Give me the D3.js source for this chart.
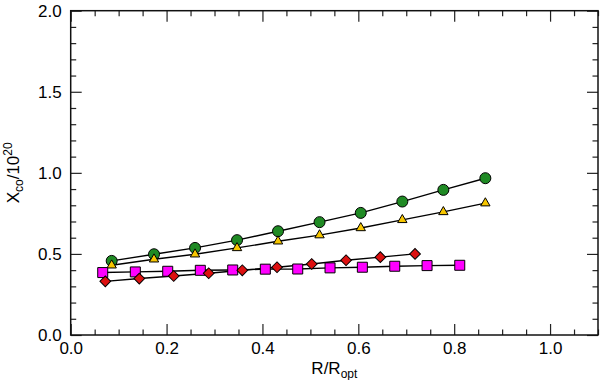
<!DOCTYPE html>
<html>
<head>
<meta charset="utf-8">
<script src="https://cdn.jsdelivr.net/npm/d3@7"></script>
<style>
  body { margin: 0; background: #fff; }
  text { font-family: "Liberation Sans", Arial, sans-serif; }
</style>
</head>
<body>
<script>
// data
const circleX = [0.0855, 0.1738, 0.2594, 0.3470, 0.4325, 0.5191, 0.6051, 0.6918, 0.7774, 0.8650];
const circleY = [0.457, 0.498, 0.537, 0.585, 0.640, 0.696, 0.753, 0.823, 0.895, 0.967];
const triangleX = [0.0855, 0.1738, 0.2594, 0.3470, 0.4325, 0.5191, 0.6051, 0.6918, 0.7774, 0.8650];
const triangleY = [0.430, 0.467, 0.498, 0.537, 0.578, 0.616, 0.660, 0.710, 0.759, 0.813];
const squareX = [0.0668, 0.1348, 0.2024, 0.2704, 0.3380, 0.4060, 0.4736, 0.5410, 0.6084, 0.6760, 0.7434, 0.8116];
const squareY = [0.385, 0.389, 0.393, 0.399, 0.401, 0.406, 0.407, 0.414, 0.418, 0.424, 0.428, 0.430];
const diamondX = [0.0722, 0.1431, 0.2149, 0.2879, 0.3580, 0.4304, 0.5028, 0.5744, 0.6459, 0.7183];
const diamondY = [0.331, 0.348, 0.364, 0.381, 0.399, 0.418, 0.438, 0.461, 0.480, 0.500];

const xMajor = [0, 0.2, 0.4, 0.6, 0.8, 1.0];
const yMajor = [0, 0.5, 1.0, 1.5, 2.0];

const width = 600, height = 380;
const margin = { top: 10.7, right: 2, bottom: 45, left: 70.7 };

const svg = d3.select("body").append("svg")
    .attr("width", width)
    .attr("height", height);

const x = d3.scaleLinear().domain([0, 1.1]).range([margin.left, width - margin.right]);
const y = d3.scaleLinear().domain([0, 2.0]).range([height - margin.bottom, margin.top]);

const xMinor = d3.range(0, 1.1001, 0.05).map(v => +v.toFixed(2)).filter(v => !xMajor.includes(v));
const yMinor = d3.range(0, 2.0001, 0.1).map(v => +v.toFixed(1)).filter(v => !yMajor.includes(v));

const fmt = d3.format(".1f");
const big = 11, small = 5.5;

function styleAxis(g) {
  g.select(".domain").remove();
  g.selectAll(".tick line").attr("stroke", "#222").attr("stroke-width", 1.2);
  g.selectAll(".tick text").attr("font-size", 17).attr("fill", "#000");
}

// bottom
svg.append("g").attr("transform", `translate(0,${y(0)})`)
    .call(d3.axisBottom(x).tickValues(xMajor).tickFormat(fmt).tickSize(-big).tickPadding(7))
    .call(styleAxis);
svg.append("g").attr("transform", `translate(0,${y(0)})`)
    .call(d3.axisBottom(x).tickValues(xMinor).tickFormat("").tickSize(-small))
    .call(styleAxis);
// top
svg.append("g").attr("transform", `translate(0,${y(2)})`)
    .call(d3.axisTop(x).tickValues(xMajor).tickFormat("").tickSize(-big))
    .call(styleAxis);
svg.append("g").attr("transform", `translate(0,${y(2)})`)
    .call(d3.axisTop(x).tickValues(xMinor).tickFormat("").tickSize(-small))
    .call(styleAxis);
// left
svg.append("g").attr("transform", `translate(${x(0)},0)`)
    .call(d3.axisLeft(y).tickValues(yMajor).tickFormat(fmt).tickSize(-big).tickPadding(9))
    .call(styleAxis);
svg.append("g").attr("transform", `translate(${x(0)},0)`)
    .call(d3.axisLeft(y).tickValues(yMinor).tickFormat("").tickSize(-small))
    .call(styleAxis);
// right
svg.append("g").attr("transform", `translate(${x(1.1)},0)`)
    .call(d3.axisRight(y).tickValues(yMajor).tickFormat("").tickSize(-big))
    .call(styleAxis);
svg.append("g").attr("transform", `translate(${x(1.1)},0)`)
    .call(d3.axisRight(y).tickValues(yMinor).tickFormat("").tickSize(-small))
    .call(styleAxis);

// frame
svg.append("rect")
    .attr("x", x(0)).attr("y", y(2))
    .attr("width", x(1.1) - x(0)).attr("height", y(0) - y(2))
    .attr("fill", "none").attr("stroke", "#111").attr("stroke-width", 1.5);

const line = d3.line().x(d => x(d[0])).y(d => y(d[1]));

const series = [
  { xs: circleX, ys: circleY, type: d3.symbolCircle, size: 95, fill: "#1f8a24", rot: 0 },
  { xs: triangleX, ys: triangleY, type: d3.symbolTriangle, size: 38, fill: "#f7c600", rot: 0 },
  { xs: squareX, ys: squareY, type: d3.symbolSquare, size: 100, fill: "#ff00ff", rot: 0 },
  { xs: diamondX, ys: diamondY, type: d3.symbolSquare, size: 58, fill: "#dd1010", rot: 45 }
];

// lines first, markers on top
series.forEach(s => {
  const pts = s.xs.map((v, i) => [v, s.ys[i]]);
  svg.append("path")
      .datum(pts)
      .attr("d", line)
      .attr("fill", "none")
      .attr("stroke", "#000")
      .attr("stroke-width", 1.4);
});

series.forEach(s => {
  const pts = s.xs.map((v, i) => [v, s.ys[i]]);
  svg.append("g").selectAll("path")
    .data(pts)
    .join("path")
      .attr("d", d3.symbol().type(s.type).size(s.size))
      .attr("transform", d => `translate(${x(d[0])},${y(d[1])}) rotate(${s.rot})`)
      .attr("fill", s.fill)
      .attr("stroke", "#000")
      .attr("stroke-width", 1);
});

// axis titles
const xt = svg.append("text")
    .attr("x", (x(0) + x(1.1)) / 2)
    .attr("y", 374)
    .attr("text-anchor", "middle")
    .attr("font-size", 17);
xt.append("tspan").text("R/R");
xt.append("tspan").attr("font-size", 12).attr("dy", 4).text("opt");

const yt = svg.append("text")
    .attr("transform", `translate(18.5,${(y(0) + y(2)) / 2}) rotate(-90)`)
    .attr("text-anchor", "middle")
    .attr("font-size", 17);
yt.append("tspan").text("X");
yt.append("tspan").attr("font-size", 12).attr("dy", 4).text("co");
yt.append("tspan").attr("dy", -4).text("/10");
yt.append("tspan").attr("font-size", 12).attr("dy", -7).text("20");
</script>
</body>
</html>
